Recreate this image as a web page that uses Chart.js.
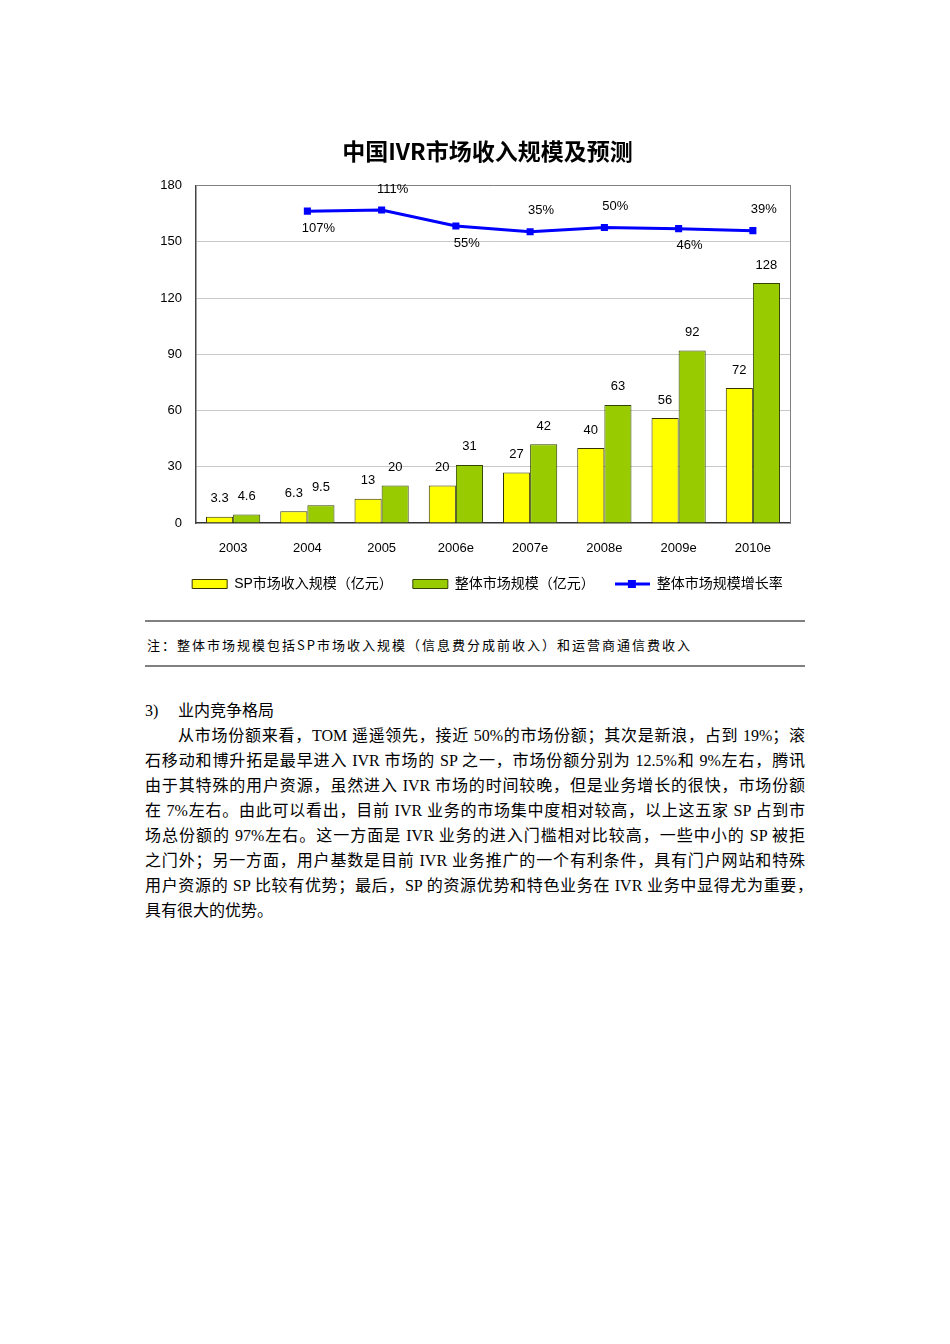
<!DOCTYPE html>
<html lang="zh">
<head>
<meta charset="utf-8">
<title>中国IVR市场收入规模及预测</title>
<script src="https://cdn.jsdelivr.net/npm/chart.js"></script>
<style>
    html, body { margin: 0; padding: 0; background: #fff; }
    body { width: 950px; height: 1344px; position: relative; overflow: hidden; color: #000; }
    #grafico { position: absolute; left: 145px; top: 120px; }
    .regla { position: absolute; left: 145px; width: 660px; height: 2px; background: #808080; }
    #nota { position: absolute; left: 147px; top: 636px; font-size: 13px; font-family: "Noto Sans CJK SC", sans-serif; letter-spacing: 2px; line-height: 18px; white-space: nowrap; }
    #texto { position: absolute; left: 145px; top: 698px; font-size: 16px; font-family: "Liberation Serif", "Noto Sans CJK SC", serif; }
    #texto div { height: 25px; line-height: 25px; }
    #texto .just { width: 660px; text-align: justify; text-align-last: justify; }
</style>
</head>
<body>

<canvas id="grafico" width="685" height="481"></canvas>

<div class="regla" style="top:620px"></div>
<div id="nota">注：整体市场规模包括SP市场收入规模（信息费分成前收入）和运营商通信费收入</div>
<div class="regla" style="top:665px"></div>

<div id="texto">
    <div><span style="display:inline-block;width:33px">3)</span>业内竞争格局</div>
    <div class="just" style="padding-left:33px;width:627px">从市场份额来看，TOM 遥遥领先，接近 50%的市场份额；其次是新浪，占到 19%；滚</div>
    <div class="just">石移动和博升拓是最早进入 IVR 市场的 SP 之一，市场份额分别为 12.5%和 9%左右，腾讯</div>
    <div class="just">由于其特殊的用户资源，虽然进入 IVR 市场的时间较晚，但是业务增长的很快，市场份额</div>
    <div class="just">在 7%左右。由此可以看出，目前 IVR 业务的市场集中度相对较高，以上这五家 SP 占到市</div>
    <div class="just">场总份额的 97%左右。这一方面是 IVR 业务的进入门槛相对比较高，一些中小的 SP 被拒</div>
    <div class="just">之门外；另一方面，用户基数是目前 IVR 业务推广的一个有利条件，具有门户网站和特殊</div>
    <div class="just" style="width:668px">用户资源的 SP 比较有优势；最后，SP 的资源优势和特色业务在 IVR 业务中显得尤为重要，</div>
    <div>具有很大的优势。</div>
</div>

<script>
//DATOS DEL GRAFICO
var anios = ['2003', '2004', '2005', '2006e', '2007e', '2008e', '2009e', '2010e'];
var ingresosSP = [3.3, 6.3, 13, 20, 27, 40, 56, 72];
var mercadoTotal = [4.6, 9.5, 20, 31, 42, 63, 92, 128];
var crecimiento = [null, 107, 111, 55, 35, 50, 46, 39];
var posEtiqueta = ['', 'abajo', 'arriba', 'abajo', 'arriba', 'arriba', 'abajo', 'arriba'];
var nombres = ['SP市场收入规模（亿元）', '整体市场规模（亿元）', '整体市场规模增长率'];

var fuente = '"Liberation Sans", "Noto Sans CJK SC", sans-serif';
Chart.defaults.font.family = fuente;
Chart.defaults.color = '#000';

//ICONO DE LA LEYENDA PARA LA LINEA
var iconoLinea = document.createElement('canvas');
iconoLinea.width = 35;
iconoLinea.height = 12;
var ic = iconoLinea.getContext('2d');
ic.strokeStyle = '#0000ff';
ic.lineWidth = 3;
ic.beginPath();
ic.moveTo(0, 6);
ic.lineTo(35, 6);
ic.stroke();
ic.fillStyle = '#0000ff';
ic.fillRect(13, 2, 8, 8);

//PLUGIN PARA PONER LOS VALORES
var etiquetas = {
    id: 'etiquetas',
    afterDatasetsDraw: function(chart) {
        var ctx = chart.ctx;
        ctx.save();
        ctx.font = '13px "Liberation Sans", sans-serif';
        ctx.fillStyle = '#000';
        ctx.textAlign = 'center';
        ctx.textBaseline = 'middle';
        [0, 1].forEach(function(d) {
            chart.getDatasetMeta(d).data.forEach(function(barra, i) {
                ctx.fillText(String(chart.data.datasets[d].data[i]), barra.x, barra.y - 18);
            });
        });
        chart.getDatasetMeta(2).data.forEach(function(punto, i) {
            var v = crecimiento[i];
            if (v === null) return;
            var dy = posEtiqueta[i] === 'arriba' ? -21 : 17;
            ctx.fillText(v + '%', punto.x + 11, punto.y + dy);
        });
        ctx.restore();
    }
};

var valores = {
    labels: anios,
    datasets: [{
        label: nombres[0],
        data: ingresosSP,
        backgroundColor: '#ffff00',
        borderColor: '#333300',
        borderWidth: 1,
        yAxisID: 'y'
    }, {
        label: nombres[1],
        data: mercadoTotal,
        backgroundColor: '#99cc00',
        borderColor: '#334400',
        borderWidth: 1,
        yAxisID: 'y'
    }, {
        type: 'line',
        label: nombres[2],
        data: crecimiento,
        borderColor: '#0000ff',
        backgroundColor: '#0000ff',
        borderWidth: 3,
        pointStyle: 'rect',
        pointRadius: 5,
        pointBorderWidth: 0,
        tension: 0,
        yAxisID: 'y2'
    }]
};

var opciones = {
    responsive: false,
    animation: false,
    devicePixelRatio: 1,
    categoryPercentage: 0.73,
    barPercentage: 1.0,
    layout: {
        padding: 0
    },
    plugins: {
        tooltip: { enabled: false },
        title: {
            display: true,
            text: '中国IVR市场收入规模及预测',
            color: '#000',
            font: { size: 23, weight: 'bold', family: '"Noto Sans CJK SC", sans-serif' },
            padding: { top: 17, bottom: 21 }
        },
        legend: {
            display: true,
            position: 'bottom',
            align: 'center',
            labels: {
                usePointStyle: true,
                pointStyleWidth: 35,
                boxHeight: 9,
                padding: 20,
                color: '#000',
                font: { size: 14 },
                generateLabels: function(chart) {
                    var items = Chart.defaults.plugins.legend.labels.generateLabels(chart);
                    items.forEach(function(it, i) {
                        it.pointStyle = i === 2 ? iconoLinea : 'rect';
                        it.lineWidth = 1;
                    });
                    return items;
                }
            }
        }
    },
    scales: {
        x: {
            grid: { display: false, drawTicks: false },
            border: { display: true, color: '#333', width: 1.5 },
            ticks: { padding: 18, font: { size: 13 } },
            afterFit: function(escala) { escala.height = 34; }
        },
        y: {
            min: 0,
            max: 180,
            ticks: { stepSize: 30, padding: 14, font: { size: 13 } },
            grid: {
                drawTicks: false,
                color: function(c) {
                    if (c.tick.value === 0) return 'rgba(0,0,0,0)';
                    if (c.tick.value === 180) return '#808080';
                    return '#c8c8c8';
                }
            },
            border: { display: true, color: '#444', width: 1.5 },
            afterFit: function(escala) { escala.width = 51; }
        },
        y2: {
            position: 'right',
            min: -980,
            max: 196,
            ticks: { display: false },
            grid: { display: false, drawTicks: false },
            border: { display: true, color: '#808080', width: 1 },
            afterFit: function(escala) { escala.width = 40; }
        }
    }
};

var grafico = new Chart(document.getElementById('grafico'), {
    type: 'bar',
    data: valores,
    options: opciones,
    plugins: [etiquetas]
});
</script>
</body>
</html>
